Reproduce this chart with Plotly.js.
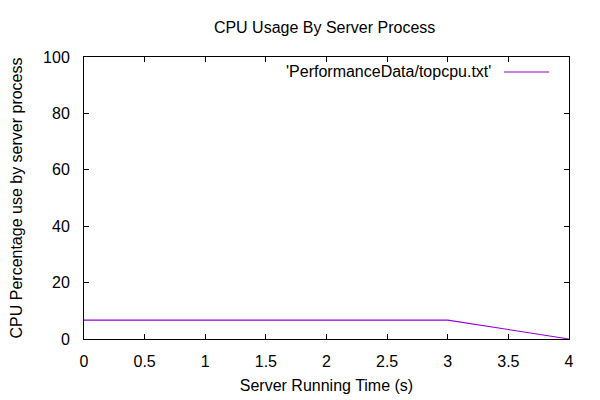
<!DOCTYPE html>
<html><head><meta charset="utf-8">
<script src="https://cdn.plot.ly/plotly-3.0.1.min.js"></script>
<style>html,body{margin:0;padding:0;background:#fff}#chart{width:600px;height:400px}</style>
</head><body><div id="chart"></div>
<script>
const timeSeconds = [0, 1, 2, 3, 4];
const cpuPercent = [6.7, 6.7, 6.7, 6.7, 0];
const xTicks = [0, 0.5, 1, 1.5, 2, 2.5, 3, 3.5, 4];
const yTicks = [0, 20, 40, 60, 80, 100];
const seriesName = "'PerformanceData/topcpu.txt'";

const font = {family: 'Liberation Sans, Arial, sans-serif', size: 16, color: '#000'};
const axisCommon = {
  showline: true, linecolor: '#000', linewidth: 1, mirror: 'ticks',
  ticks: 'inside', ticklen: 5, tickcolor: '#000', tickwidth: 1,
  showgrid: false, zeroline: false, tickfont: font
};
Plotly.newPlot('chart', [{
  x: timeSeconds, y: cpuPercent, type: 'scatter', mode: 'lines',
  line: {color: '#9400d3', width: 1.1}, name: seriesName, showlegend: false
}], {
  width: 600, height: 400,
  margin: {l: 84, r: 31, t: 57, b: 61},
  paper_bgcolor: '#fff', plot_bgcolor: '#fff',
  font: font,
  title: {text: 'CPU Usage By Server Process', font: font, x: 0.541, xanchor: 'center', y: 0.932, yanchor: 'middle'},
  xaxis: Object.assign({}, axisCommon, {
    range: [0, 4], tickvals: xTicks, ticktext: xTicks.map(String), ticklabelstandoff: 8,
    title: {text: 'Server Running Time (s)', font: font, standoff: 10}
  }),
  yaxis: Object.assign({}, axisCommon, {
    range: [0, 100], tickvals: yTicks, ticktext: yTicks.map(String), ticklabelstandoff: 10,
    title: {text: 'CPU Percentage use by server process', font: font, standoff: 16}
  }),
  annotations: [{
    text: seriesName, xref: 'paper', yref: 'paper', x: 0.843, y: 0.947,
    xanchor: 'right', yanchor: 'middle', showarrow: false, font: font
  }],
  shapes: [{
    type: 'line', xref: 'paper', yref: 'paper', x0: 0.866, x1: 0.959, y0: 0.947, y1: 0.947,
    line: {color: '#9400d3', width: 1.1}
  }]
}, {displayModeBar: false, staticPlot: true});
</script></body></html>
